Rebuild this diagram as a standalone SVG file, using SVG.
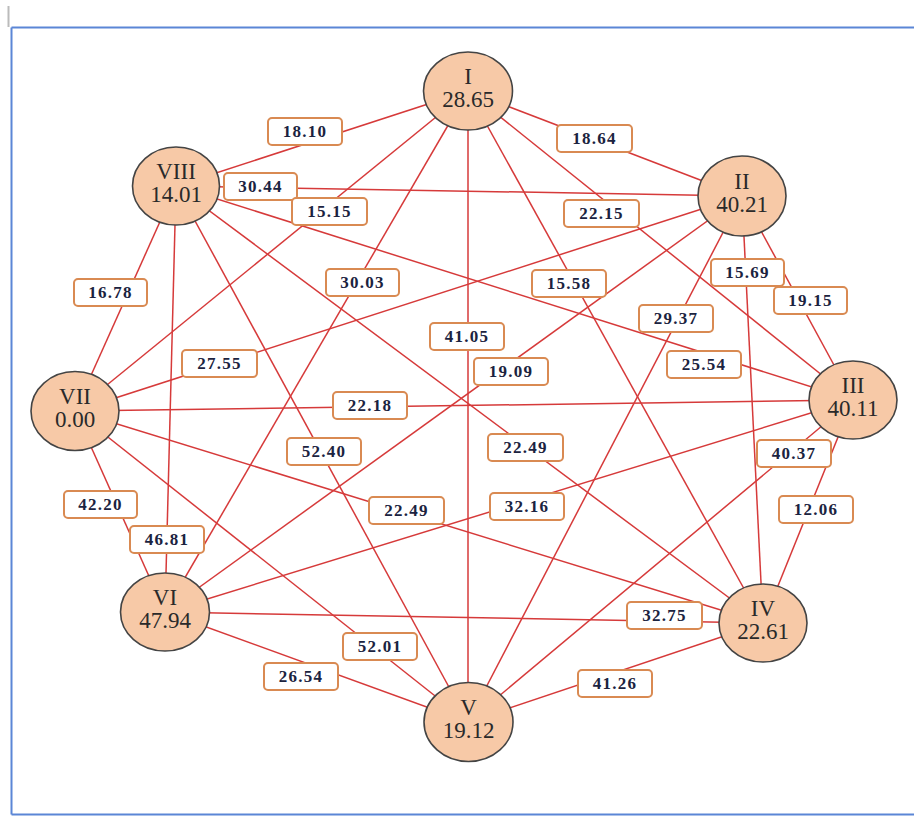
<svg xmlns="http://www.w3.org/2000/svg" width="914" height="817" viewBox="0 0 914 817">
<style>
.frame{stroke:#5b86d6;stroke-width:2;fill:none}
.edge{stroke:#d63a3a;stroke-width:1.5;fill:none}
.node ellipse{fill:#f7c9a7;stroke:#444;stroke-width:1.6}
.node text{font-family:"Liberation Serif","Times New Roman",serif;font-size:23px;fill:#2a2a2a;text-anchor:middle}
.lbl rect{fill:#fff;stroke:#d98a52;stroke-width:2}
.lbl text{font-family:"Liberation Serif","Times New Roman",serif;font-size:17px;font-weight:bold;letter-spacing:1.3px;fill:#1b2340;text-anchor:middle}
</style>
<rect width="914" height="817" fill="#fff"/>
<g id="frame">
<line class="frame" x1="11.5" y1="27.5" x2="914" y2="27.5"/>
<line class="frame" x1="11.5" y1="27.5" x2="11.5" y2="814.5"/>
<line class="frame" x1="11.5" y1="814.5" x2="914" y2="814.5"/>
<line x1="8.5" y1="6" x2="8.5" y2="27" stroke="#bbb" stroke-width="2"/>
</g>
<g id="connectors">
<line class="edge" x1="468" y1="91" x2="742" y2="196"/>
<line class="edge" x1="468" y1="91" x2="853" y2="400"/>
<line class="edge" x1="468" y1="91" x2="763" y2="623"/>
<line class="edge" x1="468" y1="91" x2="468" y2="722"/>
<line class="edge" x1="468" y1="91" x2="165" y2="612"/>
<line class="edge" x1="468" y1="91" x2="75" y2="411"/>
<line class="edge" x1="468" y1="91" x2="176" y2="186"/>
<line class="edge" x1="742" y1="196" x2="853" y2="400"/>
<line class="edge" x1="742" y1="196" x2="763" y2="623"/>
<line class="edge" x1="742" y1="196" x2="468" y2="722"/>
<line class="edge" x1="742" y1="196" x2="165" y2="612"/>
<line class="edge" x1="742" y1="196" x2="75" y2="411"/>
<line class="edge" x1="742" y1="196" x2="176" y2="186"/>
<line class="edge" x1="853" y1="400" x2="763" y2="623"/>
<line class="edge" x1="853" y1="400" x2="468" y2="722"/>
<line class="edge" x1="853" y1="400" x2="165" y2="612"/>
<line class="edge" x1="853" y1="400" x2="75" y2="411"/>
<line class="edge" x1="853" y1="400" x2="176" y2="186"/>
<line class="edge" x1="763" y1="623" x2="468" y2="722"/>
<line class="edge" x1="763" y1="623" x2="165" y2="612"/>
<line class="edge" x1="763" y1="623" x2="75" y2="411"/>
<line class="edge" x1="763" y1="623" x2="176" y2="186"/>
<line class="edge" x1="468" y1="722" x2="165" y2="612"/>
<line class="edge" x1="468" y1="722" x2="75" y2="411"/>
<line class="edge" x1="468" y1="722" x2="176" y2="186"/>
<line class="edge" x1="165" y1="612" x2="75" y2="411"/>
<line class="edge" x1="165" y1="612" x2="176" y2="186"/>
<line class="edge" x1="75" y1="411" x2="176" y2="186"/>
</g>
<g id="labels">
<g class="lbl"><rect x="268" y="118" width="74" height="27" rx="4"/><text x="305" y="137">18.10</text></g>
<g class="lbl"><rect x="557" y="125" width="75" height="27" rx="4"/><text x="594.5" y="144">18.64</text></g>
<g class="lbl"><rect x="224" y="173" width="73" height="27" rx="4"/><text x="260.5" y="192">30.44</text></g>
<g class="lbl"><rect x="292" y="198" width="75" height="27" rx="4"/><text x="329.5" y="217">15.15</text></g>
<g class="lbl"><rect x="564" y="200" width="75" height="27" rx="4"/><text x="601.5" y="219">22.15</text></g>
<g class="lbl"><rect x="532" y="270" width="74" height="27" rx="4"/><text x="569" y="289">15.58</text></g>
<g class="lbl"><rect x="711" y="259" width="73" height="27" rx="4"/><text x="747.5" y="278">15.69</text></g>
<g class="lbl"><rect x="774" y="287" width="73" height="27" rx="4"/><text x="810.5" y="306">19.15</text></g>
<g class="lbl"><rect x="639" y="305" width="74" height="27" rx="4"/><text x="676" y="324">29.37</text></g>
<g class="lbl"><rect x="667" y="351" width="74" height="27" rx="4"/><text x="704" y="370">25.54</text></g>
<g class="lbl"><rect x="74" y="279" width="73" height="27" rx="4"/><text x="110.5" y="298">16.78</text></g>
<g class="lbl"><rect x="182" y="350" width="75" height="27" rx="4"/><text x="219.5" y="369">27.55</text></g>
<g class="lbl"><rect x="326" y="269" width="73" height="27" rx="4"/><text x="362.5" y="288">30.03</text></g>
<g class="lbl"><rect x="430" y="323" width="74" height="27" rx="4"/><text x="467" y="342">41.05</text></g>
<g class="lbl"><rect x="474" y="358" width="74" height="27" rx="4"/><text x="511" y="377">19.09</text></g>
<g class="lbl"><rect x="333" y="392" width="74" height="27" rx="4"/><text x="370" y="411">22.18</text></g>
<g class="lbl"><rect x="287" y="438" width="74" height="27" rx="4"/><text x="324" y="457">52.40</text></g>
<g class="lbl"><rect x="488" y="434" width="75" height="27" rx="4"/><text x="525.5" y="453">22.49</text></g>
<g class="lbl"><rect x="757" y="440" width="74" height="27" rx="4"/><text x="794" y="459">40.37</text></g>
<g class="lbl"><rect x="490" y="493" width="74" height="27" rx="4"/><text x="527" y="512">32.16</text></g>
<g class="lbl"><rect x="779" y="496" width="74" height="27" rx="4"/><text x="816" y="515">12.06</text></g>
<g class="lbl"><rect x="64" y="491" width="73" height="27" rx="4"/><text x="100.5" y="510">42.20</text></g>
<g class="lbl"><rect x="130" y="526" width="74" height="27" rx="4"/><text x="167" y="545">46.81</text></g>
<g class="lbl"><rect x="369" y="497" width="75" height="27" rx="4"/><text x="406.5" y="516">22.49</text></g>
<g class="lbl"><rect x="343" y="633" width="74" height="27" rx="4"/><text x="380" y="652">52.01</text></g>
<g class="lbl"><rect x="264" y="663" width="74" height="27" rx="4"/><text x="301" y="682">26.54</text></g>
<g class="lbl"><rect x="578" y="670" width="74" height="27" rx="4"/><text x="615" y="689">41.26</text></g>
<g class="lbl"><rect x="627" y="602" width="75" height="27" rx="4"/><text x="664.5" y="621">32.75</text></g>
</g>
<g id="node-I" class="node"><ellipse cx="468" cy="91" rx="44.5" ry="39"/><text x="468" y="84">I</text><text x="468" y="107">28.65</text></g>
<g id="node-II" class="node"><ellipse cx="742" cy="196" rx="44" ry="40"/><text x="742" y="189">II</text><text x="742" y="212">40.21</text></g>
<g id="node-III" class="node"><ellipse cx="853" cy="400" rx="44" ry="39"/><text x="853" y="393">III</text><text x="853" y="416">40.11</text></g>
<g id="node-IV" class="node"><ellipse cx="763" cy="623" rx="44" ry="39"/><text x="763" y="616">IV</text><text x="763" y="639">22.61</text></g>
<g id="node-V" class="node"><ellipse cx="468.5" cy="722" rx="44.5" ry="39.5"/><text x="468.5" y="715">V</text><text x="468.5" y="738">19.12</text></g>
<g id="node-VI" class="node"><ellipse cx="165" cy="612" rx="44.5" ry="39"/><text x="165" y="605">VI</text><text x="165" y="628">47.94</text></g>
<g id="node-VII" class="node"><ellipse cx="75" cy="411" rx="44" ry="39.5"/><text x="75" y="404">VII</text><text x="75" y="427">0.00</text></g>
<g id="node-VIII" class="node"><ellipse cx="176" cy="186" rx="43.5" ry="39"/><text x="176" y="179">VIII</text><text x="176" y="202">14.01</text></g>
</svg>
